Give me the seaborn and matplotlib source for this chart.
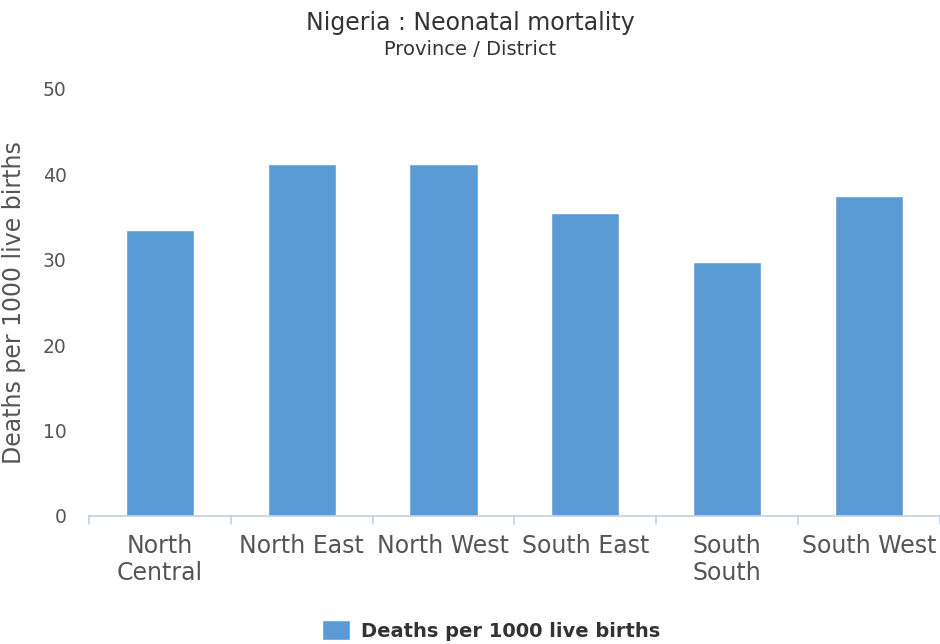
import numpy as np
import pandas as pd
import matplotlib
matplotlib.use("Agg")
import matplotlib.pyplot as plt
import seaborn as sns

regions = ["North\nCentral", "North East", "North West", "South East", "South\nSouth", "South West"]
deaths = [33.5, 41.2, 41.2, 35.5, 29.7, 37.4]
y_ticks = [0, 10, 20, 30, 40, 50]

df = pd.DataFrame({"region": regions, "deaths": deaths})

sns.set_style("white")
plt.rcParams['font.family'] = 'sans-serif'
plt.rcParams['font.sans-serif'] = ['DejaVu Sans']

fig = plt.figure(figsize=(9.4, 6.44), dpi=100)
ax = fig.add_axes([0.0947, 0.199, 0.905, 0.663])

sns.barplot(data=df, x="region", y="deaths", color="#5b9bd5", width=0.48,
            saturation=1, ax=ax, label="Deaths per 1000 live births")

ax.set_ylim(0, 50)
ax.set_xlim(-0.5, len(regions) - 0.5)
ax.set_yticks(y_ticks)
ax.set_yticklabels([str(t) for t in y_ticks], color="#555555", fontsize=13.5)
ax.tick_params(axis="y", length=0, pad=16)
ax.tick_params(axis="x", length=0, pad=13, labelsize=17, labelcolor="#555555")
for lbl in ax.get_xticklabels():
    lbl.set_linespacing(1.15)
ax.set_xlabel("")
ax.set_ylabel("Deaths per 1000 live births", fontsize=17, color="#555555", labelpad=12)

for s in ["top", "right", "left"]:
    ax.spines[s].set_visible(False)
ax.spines["bottom"].set_color("#c0d0e0")
ax.spines["bottom"].set_linewidth(1.2)

# category boundary ticks
for b in np.arange(-0.5, len(regions), 1.0):
    ax.plot([b, b], [0, -1.0], color="#c0d0e0", lw=1.2, clip_on=False)

fig.text(0.5, 0.964, "Nigeria : Neonatal mortality", ha="center", va="center",
         fontsize=17, color="#333333")
fig.text(0.5, 0.923, "Province / District", ha="center", va="center",
         fontsize=14, color="#333333")

leg = ax.legend(loc="center", bbox_to_anchor=(0.473, -0.268),
                frameon=False, prop={"weight": "bold", "size": 14},
                handlelength=1.4, handleheight=1.2, handletextpad=0.6)
for t in leg.get_texts():
    t.set_color("#333333")

fig.savefig("out.png", dpi=100)
